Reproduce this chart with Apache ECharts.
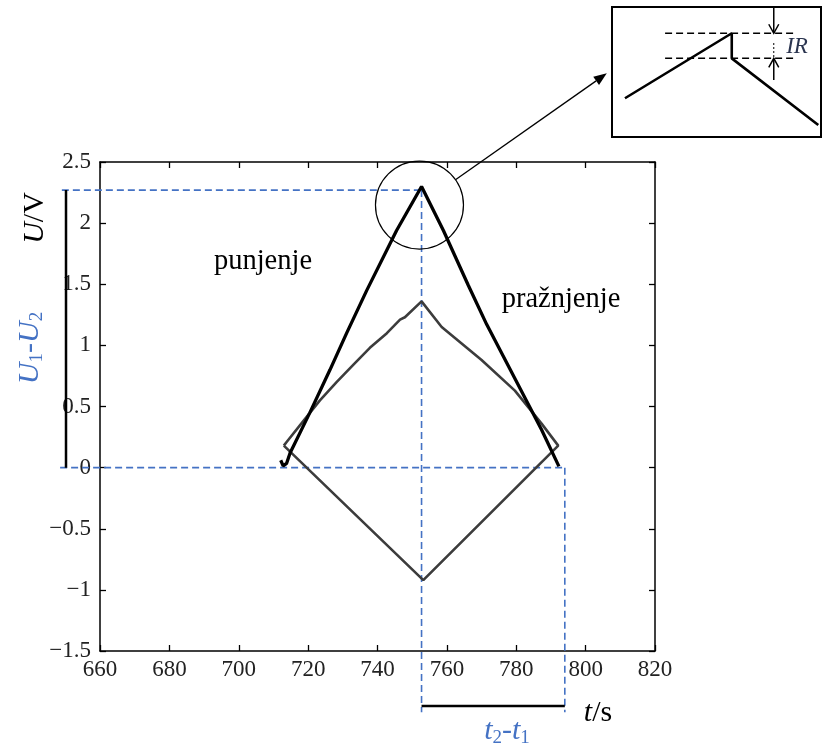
<!DOCTYPE html>
<html><head><meta charset="utf-8">
<script src="https://cdn.jsdelivr.net/npm/echarts@6/dist/echarts.min.js"></script>
<style>html,body{margin:0;padding:0;background:#fff}#c{width:823px;height:744px}</style>
</head><body><div id="c"></div>
<script>
// ---- data ----
const blackT = [712.1, 712.8, 713.8, 714.8, 720.5, 726.3, 731.1, 736.9, 745.5, 752.7, 759.0, 766.2, 771.5, 787.3, 792.3];
const blackU = [0.06, 0.015, 0.035, 0.12, 0.45, 0.80, 1.10, 1.45, 1.94, 2.30, 1.94, 1.49, 1.17, 0.31, 0.01];
const grayT = [713.0, 713.8, 718.6, 723.4, 728.2, 733.0, 737.8, 742.7, 746.5, 747.9, 752.7, 758.5, 770.0, 779.6, 787.3, 792.1, 753.2, 713.0];
const grayU = [0.18, 0.21, 0.38, 0.55, 0.70, 0.84, 0.98, 1.10, 1.21, 1.23, 1.36, 1.15, 0.88, 0.63, 0.36, 0.18, -0.92, 0.18];
const xMin = 660, xMax = 820, xStep = 20;
const yMin = -1.5, yMax = 2.5, yStep = 0.5;
// guide lines: [x1, y1, x2, y2]
const t1 = 752.7, t2 = 794, uTop = 2.27;
const guideSegments = [[648.5, 0, t2, 0], [649, uTop, t1, uTop], [t1, uTop, t1, -2.0], [t2, 0, t2, -2.0]];
const barSegments = [[650.2, uTop, 650.2, 0], [t1, -1.95, t2, -1.95]];
// circle around the peak and pointer to inset: [cx, cy, tipX, tipY]
const pointer = [[752.1, 2.148, 806.1, 3.225]];
// inset schematic (0..100 units)
const insetX = [6.2, 57.3, 57.3, 98.7];
const insetY = [29.8, 79.8, 60.5, 9.2];
const insetLevels = [79.8, 60.5];
const insetLevelSpan = [25.4, 87.6];
const insetArrows = [[77.4, 100, 77.4, 79.8], [77.4, 43.8, 77.4, 60.5]];
const insetDotted = [[77.4, 72.3, 77.4, 60.5]];

const SERIF = '"Liberation Serif", "DejaVu Serif", serif';
const BLUE = '#4472C4';
const zip = (a, b) => a.map((v, i) => [v, b[i]]);

function segRender(style) {
  return function (params, api) {
    const a = api.coord([api.value(0), api.value(1)]);
    const b = api.coord([api.value(2), api.value(3)]);
    return { type: 'line', shape: { x1: a[0], y1: a[1], x2: b[0], y2: b[1] }, style: style };
  };
}
function arrowRender(params, api) {
  const a = api.coord([api.value(0), api.value(1)]);
  const b = api.coord([api.value(2), api.value(3)]);
  const dx = b[0] - a[0], dy = b[1] - a[1], L = Math.hypot(dx, dy);
  const ux = dx / L, uy = dy / L, hl = 9, hw = 5;
  const bx = b[0] - ux * hl, by = b[1] - uy * hl, px = -uy, py = ux;
  return { type: 'group', children: [
    { type: 'line', shape: { x1: a[0], y1: a[1], x2: b[0], y2: b[1] }, style: { stroke: '#000', lineWidth: 1.5 } },
    { type: 'polyline', shape: { points: [[bx + px * hw, by + py * hw], [b[0], b[1]], [bx - px * hw, by - py * hw]] }, style: { stroke: '#000', lineWidth: 1.5, fill: null } }
  ]};
}
function pointerRender(params, api) {
  const c = api.coord([api.value(0), api.value(1)]);
  const t = api.coord([api.value(2), api.value(3)]);
  const R = 44;
  const dx = t[0] - c[0], dy = t[1] - c[1], L = Math.hypot(dx, dy);
  const ux = dx / L, uy = dy / L;
  const s = [c[0] + ux * R, c[1] + uy * R];
  const hl = 13, hw = 5;
  const bx = t[0] - ux * hl, by = t[1] - uy * hl, px = -uy, py = ux;
  return { type: 'group', children: [
    { type: 'circle', shape: { cx: c[0], cy: c[1], r: R }, style: { stroke: '#000', lineWidth: 1.2, fill: null } },
    { type: 'line', shape: { x1: s[0], y1: s[1], x2: bx, y2: by }, style: { stroke: '#000', lineWidth: 1.3 } },
    { type: 'polygon', shape: { points: [[bx + px * hw, by + py * hw], [t[0], t[1]], [bx - px * hw, by - py * hw]] }, style: { fill: '#000' } }
  ]};
}

const chart = echarts.init(document.getElementById('c'), null, { renderer: 'canvas' });
const axisLbl = { fontFamily: SERIF, fontSize: 23, color: '#222' };
const minusFmt = v => String(v).replace('-', '\u2212');
const tick = { inside: true, length: 6, lineStyle: { color: '#000', width: 1.3 } };
const aLine = { onZero: false, lineStyle: { color: '#000', width: 1.5 } };

function richName(fill, sub1, sub2, sym) {
  return {
    text: '{i|' + sym + '}{s|' + sub1 + '}{n|-}{i|' + sym + '}{s|' + sub2 + '}',
    fontFamily: SERIF, fontSize: 30, fill: fill, align: 'center', verticalAlign: 'middle',
    rich: { i: { fontStyle: 'italic', fontFamily: SERIF, fontSize: 30, fill: fill, lineHeight: 34 },
            n: { fontFamily: SERIF, fontSize: 30, fill: fill, lineHeight: 34 },
            s: { fontFamily: SERIF, fontSize: 19, fill: fill, lineHeight: 34, verticalAlign: 'bottom', padding: [11, 0, 0, 0] } }
  };
}

chart.setOption({
  animation: false,
  backgroundColor: '#fff',
  grid: [
    { left: 100, top: 162, width: 555, height: 489, show: false },
    { left: 612, top: 7, width: 209, height: 130, show: true, borderColor: '#000', borderWidth: 2, backgroundColor: '#fff' }
  ],
  xAxis: [
    { type: 'value', gridIndex: 0, min: xMin, max: xMax, interval: xStep, position: 'bottom',
      axisLine: aLine, axisTick: tick, axisLabel: Object.assign({ margin: 7 }, axisLbl), splitLine: { show: false } },
    { type: 'value', gridIndex: 0, min: xMin, max: xMax, interval: xStep, position: 'top',
      axisLine: aLine, axisTick: tick, axisLabel: { show: false }, splitLine: { show: false } },
    { type: 'value', gridIndex: 1, min: 0, max: 100, show: false }
  ],
  yAxis: [
    { type: 'value', gridIndex: 0, min: yMin, max: yMax, interval: yStep, position: 'left',
      axisLine: aLine, axisTick: tick, axisLabel: Object.assign({ margin: 9, formatter: minusFmt }, axisLbl), splitLine: { show: false } },
    { type: 'value', gridIndex: 0, min: yMin, max: yMax, interval: yStep, position: 'right',
      axisLine: aLine, axisTick: tick, axisLabel: { show: false }, splitLine: { show: false } },
    { type: 'value', gridIndex: 1, min: 0, max: 100, show: false }
  ],
  series: [
    { type: 'custom', name: 'guides', xAxisIndex: 0, yAxisIndex: 0, clip: false, z: 1,
      renderItem: segRender({ stroke: BLUE, lineWidth: 1.6, lineDash: [7, 4] }),
      encode: { x: [0, 2], y: [1, 3] }, data: guideSegments },
    { type: 'custom', name: 'bars', xAxisIndex: 0, yAxisIndex: 0, clip: false, z: 2,
      renderItem: segRender({ stroke: '#000', lineWidth: 2.5 }),
      encode: { x: [0, 2], y: [1, 3] }, data: barSegments },
    { type: 'line', name: 'U1-U2', xAxisIndex: 0, yAxisIndex: 0, data: zip(grayT, grayU), showSymbol: false, symbol: 'none',
      lineStyle: { color: '#3c3c3c', width: 2.6 }, z: 3 },
    { type: 'line', name: 'U', xAxisIndex: 0, yAxisIndex: 0, data: zip(blackT, blackU), showSymbol: false, symbol: 'none',
      lineStyle: { color: '#000', width: 3.3 }, z: 4 },
    { type: 'custom', name: 'pointer', xAxisIndex: 0, yAxisIndex: 0, clip: false, z: 5,
      renderItem: pointerRender, encode: { x: [0, 2], y: [1, 3] }, data: pointer },
    // inset
    { type: 'line', xAxisIndex: 2, yAxisIndex: 2, data: zip(insetX, insetY), symbol: 'none', lineStyle: { color: '#000', width: 2.6 }, z: 6 },
    ...insetLevels.map(v => ({ type: 'line', xAxisIndex: 2, yAxisIndex: 2, data: [[insetLevelSpan[0], v], [insetLevelSpan[1], v]],
      symbol: 'none', lineStyle: { color: '#000', width: 1.5, type: [7, 4] }, z: 6 })),
    { type: 'custom', xAxisIndex: 2, yAxisIndex: 2, clip: false, z: 7, renderItem: arrowRender,
      encode: { x: [0, 2], y: [1, 3] }, data: insetArrows },
    { type: 'custom', xAxisIndex: 2, yAxisIndex: 2, clip: false, z: 7,
      renderItem: segRender({ stroke: '#000', lineWidth: 1, lineDash: [2, 2] }),
      encode: { x: [0, 2], y: [1, 3] }, data: insetDotted }
  ],
  graphic: [
    { type: 'text', x: 35, y: 218, rotation: Math.PI / 2, z: 10,
      style: { text: '{i|U}/V', fontFamily: SERIF, fontSize: 30, fill: '#000', align: 'center', verticalAlign: 'middle',
        rich: { i: { fontStyle: 'italic', fontFamily: SERIF, fontSize: 30, fill: '#000' } } } },
    { type: 'text', x: 30, y: 348, rotation: Math.PI / 2, z: 10, style: richName(BLUE, '1', '2', 'U') },
    { type: 'text', x: 598, y: 713, z: 10,
      style: { text: '{i|t}/s', fontFamily: SERIF, fontSize: 30, fill: '#000', align: 'center', verticalAlign: 'middle',
        rich: { i: { fontStyle: 'italic', fontFamily: SERIF, fontSize: 30, fill: '#000' } } } },
    { type: 'text', x: 507, y: 731, z: 10, style: richName(BLUE, '2', '1', 't') },
    { type: 'text', x: 263, y: 262, z: 10,
      style: { text: 'punjenje', fontFamily: SERIF, fontSize: 28.5, fill: '#000', align: 'center', verticalAlign: 'middle' } },
    { type: 'text', x: 561, y: 300, z: 10,
      style: { text: 'pražnjenje', fontFamily: SERIF, fontSize: 28.5, fill: '#000', align: 'center', verticalAlign: 'middle' } },
    { type: 'text', x: 797, y: 47, z: 10,
      style: { text: 'IR', fontFamily: SERIF, fontStyle: 'italic', fontSize: 23, fill: '#2b3550', align: 'center', verticalAlign: 'middle' } }
  ]
});
</script>
</body></html>
